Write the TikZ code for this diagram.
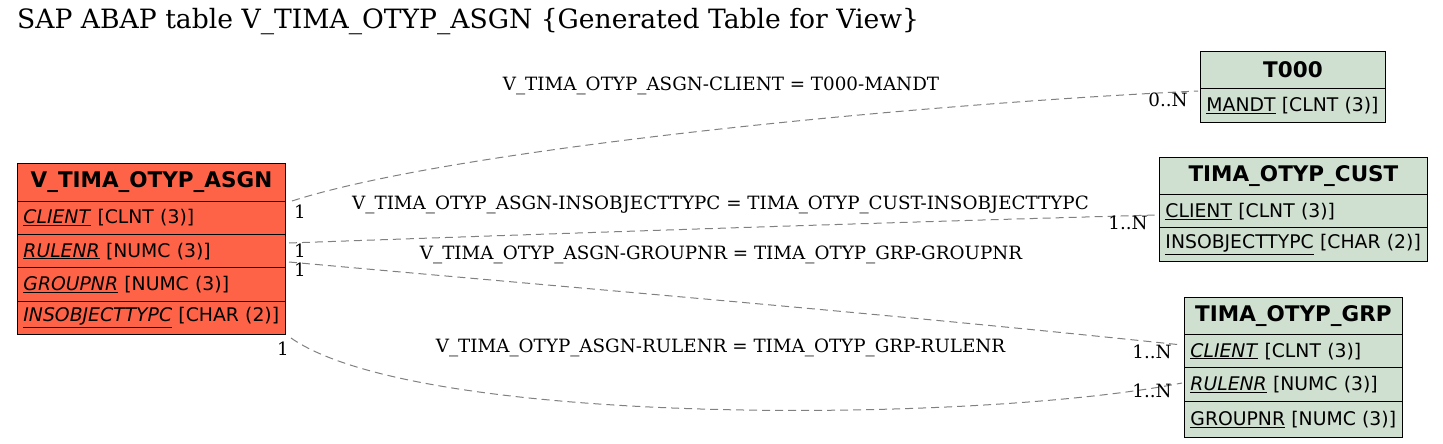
\documentclass[tikz,border=0pt]{standalone}
\usepackage{fontspec}
\setmainfont{DejaVu Serif}
\newfontfamily\tblfont{DejaVu Sans}
\definecolor{mainred}{RGB}{255,99,71}
\definecolor{tblgreen}{RGB}{208,224,208}
\definecolor{edgegray}{RGB}{128,128,128}
\begin{document}
\begin{tikzpicture}[x=1pt,y=-1pt,
  hdr/.style={draw=black,line width=0.9pt,anchor=north west,inner sep=0pt,font=\tblfont\fontsize{21.5}{25}\selectfont\bfseries},
  rowbox/.style={draw=black,line width=0.9pt,anchor=north west,inner xsep=6pt,inner ysep=0pt,align=left,font=\tblfont\fontsize{18.8}{22}\selectfont},
  rel/.style={draw=edgegray,dashed,dash pattern=on 8pt off 5pt,line width=1pt},
  elab/.style={font=\fontsize{18.3}{21}\selectfont,inner sep=0pt},
  card/.style={font=\fontsize{18.3}{21}\selectfont,inner sep=0pt}]
\useasboundingbox (0,0) rectangle (1443,444);
\node[anchor=west,inner sep=0pt,font=\fontsize{26.6}{30}\selectfont] (title) at (17,22) {SAP ABAP table V\_TIMA\_OTYP\_ASGN \{Generated Table for View\}};
% main table
\node[hdr,fill=mainred,minimum width=268pt,minimum height=37.7pt] (m) at (17,163) {V\_TIMA\_OTYP\_ASGN};
\node[rowbox,fill=mainred,text width=256pt,minimum height=33.3pt] (m1) at (17,200.7) {\mbox{\underline{\textit{CLIENT}} [CLNT (3)]}};
\node[rowbox,fill=mainred,text width=256pt,minimum height=33.3pt] (m2) at (17,234) {\mbox{\underline{\textit{RULENR}} [NUMC (3)]}};
\node[rowbox,fill=mainred,text width=256pt,minimum height=33.3pt] (m3) at (17,267.3) {\mbox{\underline{\textit{GROUPNR}} [NUMC (3)]}};
\node[rowbox,fill=mainred,text width=256pt,minimum height=33.3pt] (m4) at (17,300.6) {\mbox{\underline{\textit{INSOBJECTTYPC}} [CHAR (2)]}};
% T000
\node[hdr,fill=tblgreen,minimum width=185pt,minimum height=37.3pt] (t) at (1200,51) {T000};
\node[rowbox,fill=tblgreen,text width=173pt,minimum height=33.7pt] (t1) at (1200,88.3) {\mbox{\underline{MANDT} [CLNT (3)]}};
% TIMA_OTYP_CUST
\node[hdr,fill=tblgreen,minimum width=268pt,minimum height=37.6pt] (c) at (1159,156.7) {TIMA\_OTYP\_CUST};
\node[rowbox,fill=tblgreen,text width=256pt,minimum height=33pt] (c1) at (1159,194.3) {\mbox{\underline{CLIENT} [CLNT (3)]}};
\node[rowbox,fill=tblgreen,text width=256pt,minimum height=33.4pt] (c2) at (1159,227.3) {\mbox{\underline{INSOBJECTTYPC} [CHAR (2)]}};
% TIMA_OTYP_GRP
\node[hdr,fill=tblgreen,minimum width=218pt,minimum height=37.3pt] (g) at (1184,296.7) {TIMA\_OTYP\_GRP};
\node[rowbox,fill=tblgreen,text width=206pt,minimum height=33.3pt] (g1) at (1184,334) {\mbox{\underline{\textit{CLIENT}} [CLNT (3)]}};
\node[rowbox,fill=tblgreen,text width=206pt,minimum height=33.7pt] (g2) at (1184,367.3) {\mbox{\underline{\textit{RULENR}} [NUMC (3)]}};
\node[rowbox,fill=tblgreen,text width=206pt,minimum height=35.7pt] (g3) at (1184,401) {\mbox{\underline{GROUPNR} [NUMC (3)]}};
% edge endpoints
\coordinate (a1) at (292,201);
\coordinate (b1) at (1198,91);
\coordinate (a2) at (289,243);
\coordinate (b2) at (1157,215);
\coordinate (a3) at (289,262);
\coordinate (b3) at (1182,345);
\coordinate (a4) at (291,338);
\coordinate (b4) at (1182,383);
\draw[rel] (a1) .. controls (450,150) and (900,105) .. (b1);
\draw[rel] (a2) .. controls (600,232) and (900,222) .. (b2);
\draw[rel] (a3) .. controls (600,290) and (900,315) .. (b3);
\draw[rel] (a4) .. controls (420,428) and (980,423) .. (b4);
% edge labels
\node[elab] (l1) at (721,86) {V\_TIMA\_OTYP\_ASGN-CLIENT = T000-MANDT};
\node[elab] (l2) at (720.5,205) {V\_TIMA\_OTYP\_ASGN-INSOBJECTTYPC = TIMA\_OTYP\_CUST-INSOBJECTTYPC};
\node[elab] (l3) at (721,255) {V\_TIMA\_OTYP\_ASGN-GROUPNR = TIMA\_OTYP\_GRP-GROUPNR};
\node[elab] (l4) at (720.5,348) {V\_TIMA\_OTYP\_ASGN-RULENR = TIMA\_OTYP\_GRP-RULENR};
% cardinalities
\node[card] (k1) at (300,212) {1};
\node[card] (k2) at (300,251) {1};
\node[card] (k3) at (300,270) {1};
\node[card] (k4) at (283,349) {1};
\node[card] (n1) at (1168,100) {0..N};
\node[card] (n2) at (1128,223) {1..N};
\node[card] (n3) at (1152,352) {1..N};
\node[card] (n4) at (1152,391) {1..N};
\end{tikzpicture}
\end{document}
